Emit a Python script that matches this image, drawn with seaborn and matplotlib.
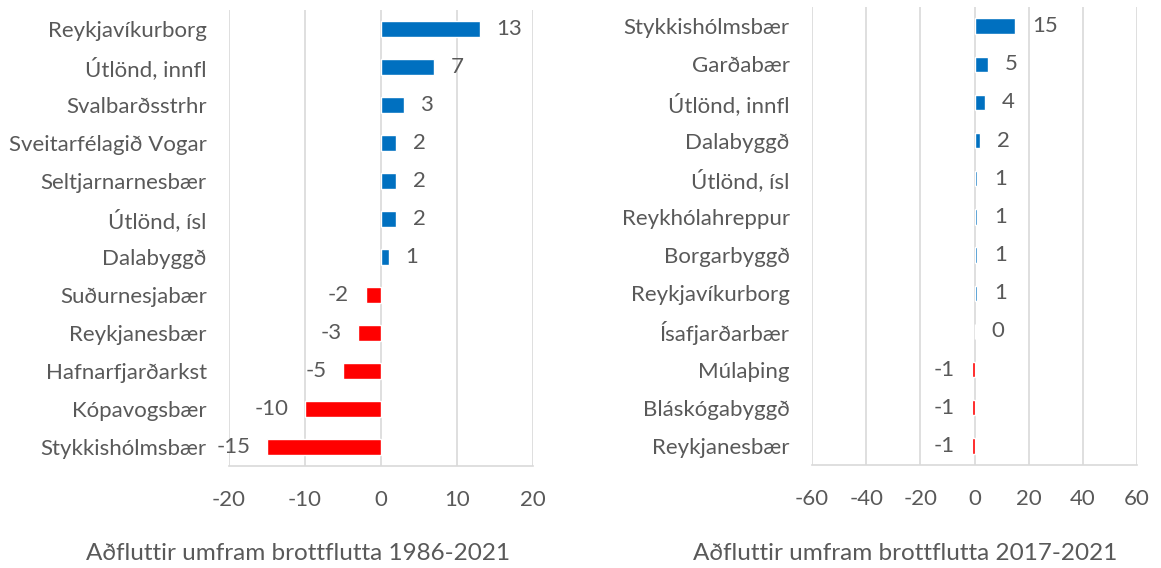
import matplotlib
matplotlib.use("Agg")
import matplotlib.pyplot as plt
import seaborn as sns
import pandas as pd

# Net migration (in-movers minus out-movers), two periods
left_categories = ["Reykjavíkurborg", "Útlönd, innfl", "Svalbarðsstrhr", "Sveitarfélagið Vogar",
                   "Seltjarnarnesbær", "Útlönd, ísl", "Dalabyggð", "Suðurnesjabær",
                   "Reykjanesbær", "Hafnarfjarðarkst", "Kópavogsbær", "Stykkishólmsbær"]
left_values = [13, 7, 3, 2, 2, 2, 1, -2, -3, -5, -10, -15]
left_title = "Aðfluttir umfram brottflutta 1986-2021"
left_ticks = [-20, -10, 0, 10, 20]

right_categories = ["Stykkishólmsbær", "Garðabær", "Útlönd, innfl", "Dalabyggð", "Útlönd, ísl",
                    "Reykhólahreppur", "Borgarbyggð", "Reykjavíkurborg", "Ísafjarðarbær",
                    "Múlaþing", "Bláskógabyggð", "Reykjanesbær"]
right_values = [15, 5, 4, 2, 1, 1, 1, 1, 0, -1, -1, -1]
right_title = "Aðfluttir umfram brottflutta 2017-2021"
right_ticks = [-60, -40, -20, 0, 20, 40, 60]

POS = "#0070C0"
NEG = "#FF0000"
TXT = "#595959"
GRID = "#D9D9D9"

sns.set_theme(style="white")
plt.rcParams["font.family"] = ["Lato", "DejaVu Sans"]

W, H = 1161, 568
fig = plt.figure(figsize=(W / 100, H / 100), dpi=100)


def panel(rect, cats, vals, ticks, title, title_x, fs, tfs):
    ax = fig.add_axes(rect)
    df = pd.DataFrame({"cat": cats, "val": vals})
    colors = [POS if v >= 0 else NEG for v in vals]
    sns.barplot(data=df, x="val", y="cat", hue="cat", palette=colors, legend=False,
                orient="h", width=0.4, saturation=1, ax=ax, zorder=3)
    ax.set_xlim(ticks[0], ticks[-1])
    ax.set_ylim(len(cats) - 0.5, -0.5)
    ax.set_xticks(ticks)
    ax.set_xticklabels([str(t) for t in ticks], fontsize=fs, color=TXT)
    ax.tick_params(axis="x", length=0, pad=17)
    ax.tick_params(axis="y", length=0, pad=16, labelsize=fs, labelcolor=TXT)
    ax.set_xlabel("")
    ax.set_ylabel("")
    ax.grid(axis="x", color=GRID, linewidth=1.2, zorder=0)
    ax.grid(axis="y", visible=False)
    for s in ["top", "left", "right"]:
        ax.spines[s].set_visible(False)
    ax.spines["bottom"].set_color(GRID)
    ax.spines["bottom"].set_linewidth(1.2)
    for i, v in enumerate(vals):
        off = 12 if v >= 0 else -12
        ha = "left" if v >= 0 else "right"
        ax.annotate(str(v), (v, i), xytext=(off, 0), textcoords="offset points",
                    ha=ha, va="center", fontsize=fs, color=TXT)
    fig.text(title_x, 1 - 553 / H, title, ha="center", va="center", fontsize=tfs, color=TXT)
    return ax


fs = 16
tfs = 17.5
# left panel: plot area x 229..533, y 10..466
panel([229 / W, 1 - 466 / H, (533 - 229) / W, (466 - 10) / H],
      left_categories, left_values, left_ticks, left_title, 298 / W, fs, tfs)
# right panel: plot area x 812..1137, y 7..465
panel([812 / W, 1 - 465 / H, (1137 - 812) / W, (465 - 7) / H],
      right_categories, right_values, right_ticks, right_title, 905 / W, fs, tfs)

fig.savefig("out.png", dpi=100, facecolor="white")
